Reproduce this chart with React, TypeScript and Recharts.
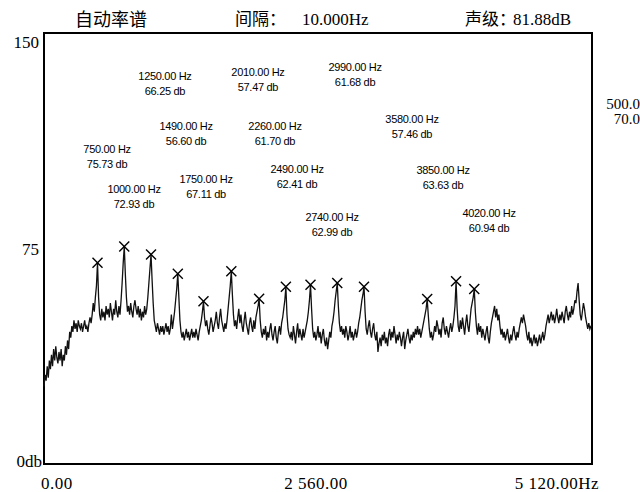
import {
  ComposedChart,
  Line,
  Scatter,
  XAxis,
  YAxis,
  ReferenceArea,
  ReferenceDot,
} from "recharts";

// spectrum amplitude (dB), one value per 10 Hz step, 0 .. 5120 Hz
const STEP_HZ = 10;
const spectrumDb = [
  27, 31, 29, 34, 30, 36, 33, 38, 34, 40,
  36, 41, 37, 35, 39, 36, 40, 34, 38, 36,
  41, 38, 43, 40, 46, 44, 48, 46, 50, 47,
  49, 46, 50, 48, 47, 49, 46, 48, 50, 47,
  48, 46, 49, 51, 49, 52, 56, 53, 58, 62,
  70, 58, 52, 50, 54, 51, 53, 50, 55, 52,
  54, 51, 56, 53, 50, 54, 52, 57, 53, 51,
  55, 52, 57, 63, 70, 75.73, 66, 58, 53, 55,
  52, 56, 53, 51, 55, 57, 54, 52, 55, 51,
  54, 50, 53, 51, 55, 52, 54, 58, 63, 68,
  72.93, 64, 56, 50, 48, 46, 49, 47, 45, 48,
  46, 48, 45, 47, 49, 46, 48, 45, 47, 52,
  47, 50, 53, 57, 61, 66.25, 58, 50, 46, 44,
  46, 43, 45, 47, 44, 46, 43, 45, 47, 44,
  46, 44, 47, 45, 43, 46, 48, 50, 53, 56.6,
  51, 48, 50, 47, 45, 48, 51, 49, 46, 48,
  50, 53, 49, 47, 51, 54, 50, 48, 46, 49,
  47, 50, 54, 58, 62, 67.11, 59, 52, 48, 50,
  47, 51, 54, 49, 52, 48, 46, 50, 53, 49,
  47, 45, 49, 51, 48, 46, 50, 47, 51, 53,
  55, 57.47, 50, 46, 44, 47, 45, 48, 43, 46,
  44, 47, 49, 45, 43, 46, 48, 44, 42, 46,
  48, 45, 49, 51, 54, 57, 61.7, 52, 47, 45,
  44, 46, 43, 48, 45, 42, 46, 49, 44, 47,
  45, 43, 47, 44, 46, 48, 50, 53, 57, 62.41,
  54, 47, 44, 46, 43, 45, 48, 44, 46, 42,
  45, 47, 43, 41, 44, 40, 43, 46, 44, 48,
  50, 53, 57, 60, 62.99, 55, 49, 46, 48, 45,
  47, 44, 48, 46, 43, 45, 48, 44, 46, 43,
  45, 47, 44, 46, 49, 51, 54, 57, 59, 61.68,
  53, 47, 45, 48, 50, 46, 44, 47, 49, 45,
  43, 46, 39, 42, 44, 41, 45, 43, 46, 42,
  44, 41, 45, 47, 43, 46, 44, 48, 45, 42,
  45, 43, 46, 44, 41, 44, 46, 40, 43, 45,
  47, 44, 42, 45, 43, 46, 44, 47, 45, 48,
  45, 47, 44, 46, 48, 50, 52, 54, 57.46, 52,
  47, 44, 46, 43, 45, 48, 46, 50, 48, 45,
  47, 44, 49, 51, 47, 45, 48, 46, 44, 47,
  49, 46, 48, 51, 55, 63.63, 54, 48, 46, 50,
  47, 51, 48, 45, 49, 52, 48, 46, 50, 54,
  56, 58, 60.94, 53, 48, 45, 49, 46, 48, 44,
  47, 45, 43, 46, 48, 44, 42, 46, 49, 51,
  53, 55, 51, 54, 50, 52, 48, 45, 47, 44,
  46, 43, 45, 47, 44, 42, 45, 43, 46, 48,
  45, 43, 46, 44, 47, 49, 51, 49, 52, 50,
  48, 45, 43, 46, 42, 44, 41, 43, 45, 42,
  44, 41, 43, 45, 42, 44, 46, 43, 45, 48,
  50, 52, 49, 51, 53, 50, 52, 49, 51, 54,
  51, 49, 52, 50, 53, 51, 49, 53, 55, 52,
  50, 53, 51, 55, 52, 54, 57, 56, 60, 63,
  57, 52, 50, 53, 56, 54, 51, 49, 47, 49,
  47, 48, 48,
];

// marked peaks
const peakHz = [500, 750, 1000, 1250, 1490, 1750, 2010, 2260, 2490, 2740, 2990, 3580, 3850, 4020];
const peakDb = [70.0, 75.73, 72.93, 66.25, 56.6, 67.11, 57.47, 61.7, 62.41, 62.99, 61.68, 57.46, 63.63, 60.94];

// where each peak's readout sits on the chart (Hz, dB); first peak is read out at the right edge
const labelAnchorHz = [0, 589, 841, 1130, 1327, 1514, 1999, 2158, 2364, 2691, 2906, 3438, 3728, 4158];
const labelAnchorDb = [0, 109.6, 95.7, 135.0, 117.6, 99.2, 136.4, 117.6, 102.7, 86.0, 138.2, 120.1, 102.3, 87.4];

const xTicks = [0, 2560, 5120];
const xTickLabels = ["0.00", "2 560.00", "5 120.00Hz"];
const yTicks = [0, 75, 150];
const yTickLabels = ["0db", "75", "150"];

const SERIF = "'Liberation Serif', 'Noto Sans CJK SC', serif";
const SANS = "'Liberation Sans', Arial, sans-serif";

const spectrum = spectrumDb.map((db, i) => ({ f: i * STEP_HZ, db }));
const peaks = peakHz.map((f, i) => ({ f, db: peakDb[i] }));
const readouts = peakHz
  .map((f, i) => ({
    f: labelAnchorHz[i],
    db: labelAnchorDb[i],
    hz: `${f.toFixed(2)} Hz`,
    lv: `${peakDb[i].toFixed(2)} db`,
  }))
  .slice(1);

function XMark(props: any) {
  const { cx, cy } = props;
  const s = 5;
  return (
    <g stroke="#000" strokeWidth={1.4}>
      <line x1={cx - s} y1={cy - s} x2={cx + s} y2={cy + s} />
      <line x1={cx - s} y1={cy + s} x2={cx + s} y2={cy - s} />
    </g>
  );
}

function Readout(props: any) {
  const { cx, cy, payload } = props;
  return (
    <g fontFamily={SANS} fontSize={11} fill="#000" textAnchor="middle" letterSpacing={-0.3}>
      <text x={cx} y={cy + 4}>{payload.hz}</text>
      <text x={cx} y={cy + 19}>{payload.lv}</text>
    </g>
  );
}

function EdgeReadout(props: any) {
  const { cx, cy } = props;
  return (
    <g fontFamily={SERIF} fontSize={15} fill="#000" textAnchor="end">
      <text x={cx + 48} y={cy + 4}>{peakHz[0].toFixed(1)}</text>
      <text x={cx + 48} y={cy + 19}>{peakDb[0].toFixed(1)}</text>
    </g>
  );
}

function XTick(props: any) {
  const { x, y, index } = props;
  const anchor = index === 0 ? "start" : index === xTicks.length - 1 ? "end" : "middle";
  const dx = index === 0 ? -3 : index === xTicks.length - 1 ? 7 : -2;
  return (
    <text x={x + dx} y={y + 17} textAnchor={anchor} fontFamily={SERIF} fontSize={17} letterSpacing={0.5} fill="#000">
      {xTickLabels[index]}
    </text>
  );
}

function YTick(props: any) {
  const { y, index } = props;
  const dy = index === 2 ? 15 : index === 0 ? 3 : 6;
  return (
    <text x={index === 0 ? 42 : 39} y={y + dy} textAnchor="end" fontFamily={SERIF} fontSize={17} fill="#000">
      {yTickLabels[index]}
    </text>
  );
}

const titleStyle: React.CSSProperties = {
  position: "absolute",
  top: 9,
  fontFamily: SERIF,
  fontSize: 17,
  lineHeight: "22px",
  color: "#000",
  whiteSpace: "pre",
};

export default function App() {
  return (
    <div style={{ position: "absolute", left: 0, top: 0, width: 640, height: 492, background: "#fff", overflow: "hidden" }}>
      <span style={{ ...titleStyle, left: 75, fontSize: 18 }}>自动率谱</span>
      <span style={{ ...titleStyle, left: 235 }}>间隔：</span>
      <span style={{ ...titleStyle, left: 302 }}>10.000Hz</span>
      <span style={{ ...titleStyle, left: 465 }}>声级：</span>
      <span style={{ ...titleStyle, left: 513 }}>81.88dB</span>
      <ComposedChart
        width={640}
        height={492}
        data={spectrum}
        margin={{ top: 33, right: 48, left: 0, bottom: 0 }}
      >
        <XAxis
          dataKey="f"
          type="number"
          domain={[0, 5120]}
          ticks={xTicks}
          height={28}
          axisLine={false}
          tickLine={false}
          tick={<XTick />}
          interval={0}
        />
        <YAxis
          type="number"
          domain={[0, 150]}
          ticks={yTicks}
          width={44}
          axisLine={false}
          tickLine={false}
          tick={<YTick />}
          interval={0}
        />
        <ReferenceArea x1={0} x2={5120} y1={0} y2={150} fill="none" stroke="#000" strokeWidth={2} />
        <Line
          type="linear"
          dataKey="db"
          stroke="#111"
          strokeWidth={1.3}
          dot={false}
          isAnimationActive={false}
        />
        <Scatter data={peaks} dataKey="db" shape={<XMark />} isAnimationActive={false} />
        <Scatter data={readouts} dataKey="db" shape={<Readout />} isAnimationActive={false} />
        <ReferenceDot x={5120} y={125} r={0} shape={<EdgeReadout />} />
      </ComposedChart>
    </div>
  );
}
